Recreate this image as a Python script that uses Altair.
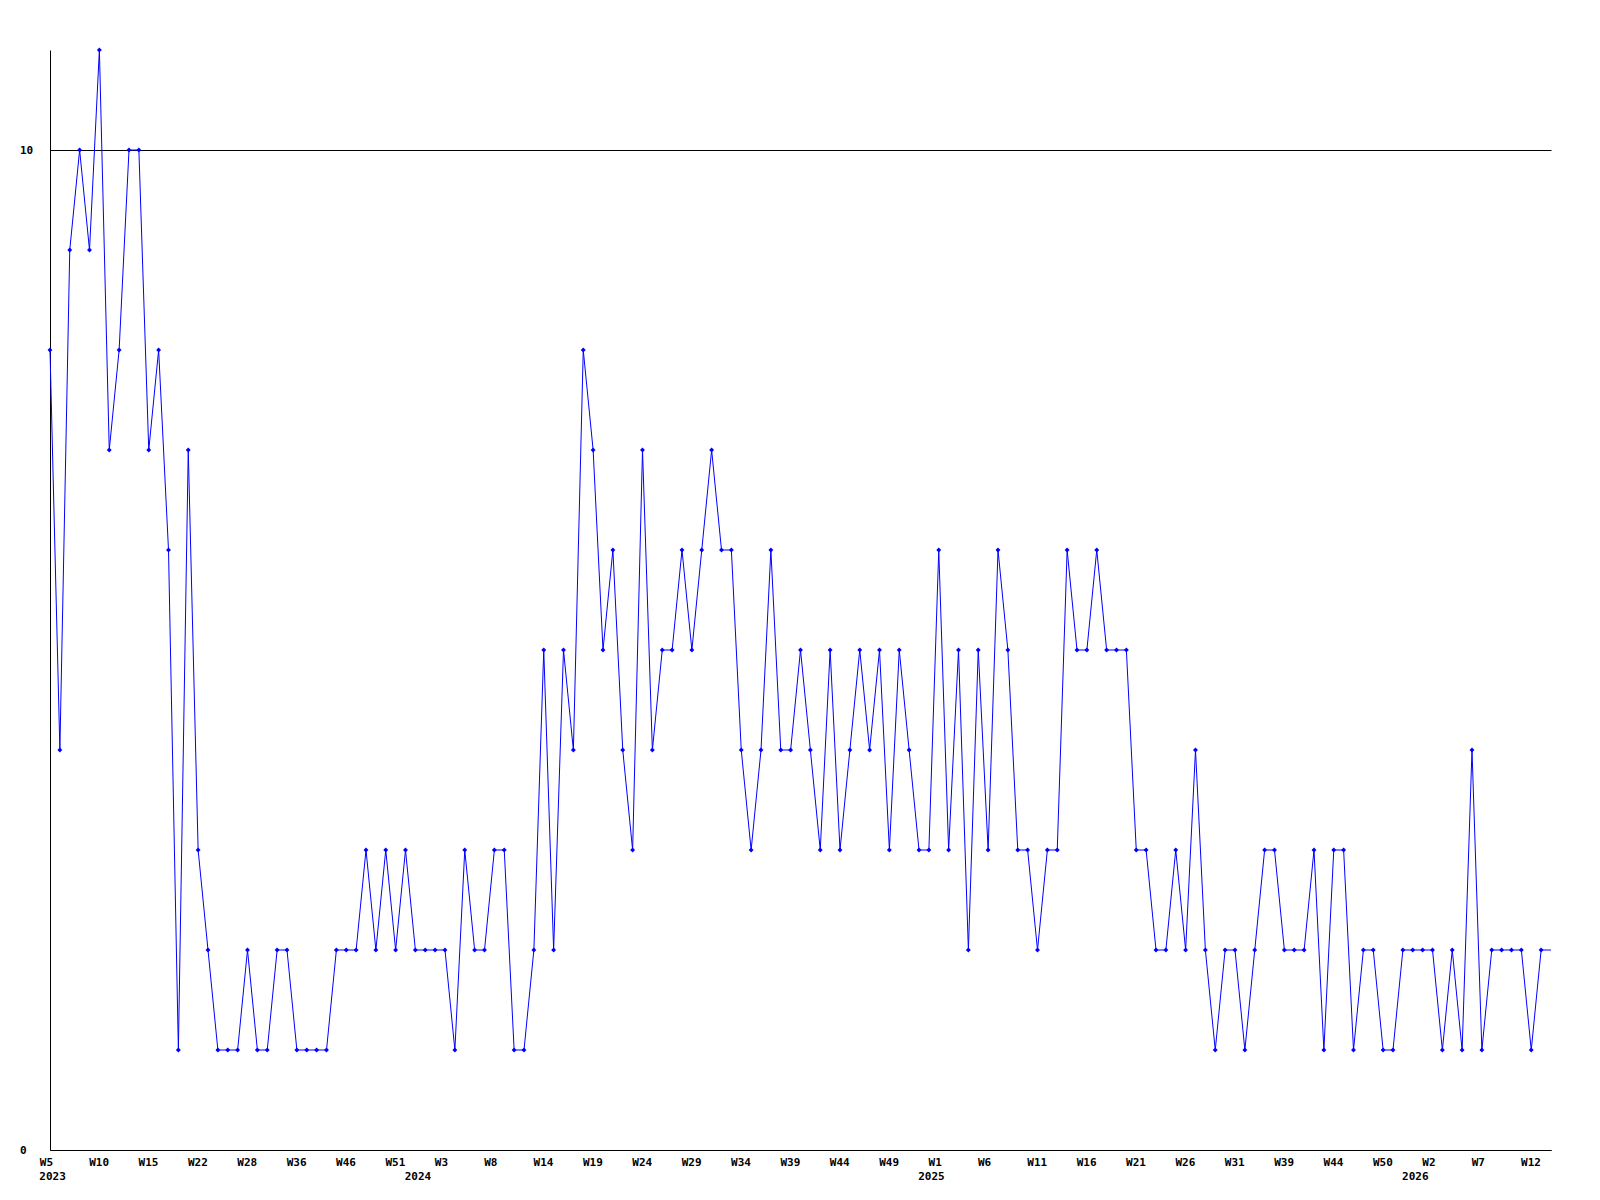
import altair as alt
import pandas as pd

# weekly values, one per point (the last one is the open week at the right edge, no marker)
values = [
    8, 4, 9, 10, 9, 11, 7, 8, 10, 10,
    7, 8, 6, 1, 7, 3, 2, 1, 1, 1,
    2, 1, 1, 2, 2, 1, 1, 1, 1, 2,
    2, 2, 3, 2, 3, 2, 3, 2, 2, 2,
    2, 1, 3, 2, 2, 3, 3, 1, 1, 2,
    5, 2, 5, 4, 8, 7, 5, 6, 4, 3,
    7, 4, 5, 5, 6, 5, 6, 7, 6, 6,
    4, 3, 4, 6, 4, 4, 5, 4, 3, 5,
    3, 4, 5, 4, 5, 3, 5, 4, 3, 3,
    6, 3, 5, 2, 5, 3, 6, 5, 3, 3,
    2, 3, 3, 6, 5, 5, 6, 5, 5, 5,
    3, 3, 2, 2, 3, 2, 4, 2, 1, 2,
    2, 1, 2, 3, 3, 2, 2, 2, 3, 1,
    3, 3, 1, 2, 2, 1, 1, 2, 2, 2,
    2, 1, 2, 1, 4, 1, 2, 2, 2, 2,
    1, 2, 2,
]

# tick labels, one every 5 points
week_labels = [
    "W5", "W10", "W15", "W22", "W28", "W36", "W46", "W51", "W3", "W8",
    "W14", "W19", "W24", "W29", "W34", "W39", "W44", "W49", "W1", "W6",
    "W11", "W16", "W21", "W26", "W31", "W39", "W44", "W50", "W2", "W7", "W12",
]
label_step = 5

# year labels and the point index they sit under
year_labels = ["2023", "2024", "2025", "2026"]
year_index = [0, 37, 89, 138]

y_ticks = [0, 10]

FONT = "DejaVu Sans Mono"
BLUE = "#0000ff"

n = len(values)
df = pd.DataFrame({"i": list(range(n)), "v": values})
df_pts = df.iloc[:-1]
df_years = pd.DataFrame({"i": year_index, "t": year_labels})

label_arr = "[" + ",".join("'" + w + "'" for w in week_labels) + "]"
label_expr = f"{label_arr}[round(datum.value/{label_step})]"

x_scale = alt.Scale(domain=[0, n - 1], nice=False, zero=False)
y_scale = alt.Scale(domain=[0, 11], nice=False)

x_axis = alt.Axis(
    values=[k * label_step for k in range(len(week_labels))],
    labelExpr=label_expr,
    title=None,
    grid=False,
    ticks=False,
    tickSize=0,
    domain=True,
    domainColor="black",
    domainWidth=1,
    labelAlign="left",
    labelBaseline="middle",
    labelOffset=-10.7,
    labelPadding=12.7,
    labelFont=FONT,
    labelFontWeight="bold",
    labelFontSize=11,
    labelColor="black",
    labelOverlap=False,
    labelFlush=False,
)

y_axis = alt.Axis(
    values=y_ticks,
    format="d",
    title=None,
    grid=True,
    gridColor="black",
    gridOpacity=1,
    gridWidth=1,
    ticks=False,
    tickSize=0,
    domain=True,
    domainColor="black",
    domainWidth=1,
    labelAlign="left",
    labelBaseline="middle",
    labelPadding=30.5,
    labelFont=FONT,
    labelFontWeight="bold",
    labelFontSize=11,
    labelColor="black",
)

line = alt.Chart(df).mark_line(color=BLUE, strokeWidth=1).encode(
    x=alt.X("i:Q", scale=x_scale, axis=x_axis),
    y=alt.Y("v:Q", scale=y_scale, axis=y_axis),
)

pts = alt.Chart(df_pts).mark_point(
    shape="diamond", filled=True, size=24, color=BLUE, opacity=1
).encode(
    x=alt.X("i:Q", scale=x_scale),
    y=alt.Y("v:Q", scale=y_scale),
)

years = alt.Chart(df_years).mark_text(
    align="left", baseline="middle", dx=-10.7, font=FONT, fontWeight="bold",
    fontSize=11, color="black"
).encode(
    x=alt.X("i:Q", scale=x_scale),
    y=alt.value(1126.5),
    text="t:N",
)

chart = alt.layer(line, pts, years).properties(
    width=1501,
    height=1100,
    autosize=alt.AutoSizeParams(type="none"),
    padding={"left": 42, "top": 42, "right": 20, "bottom": 40},
    background="white",
).configure_view(strokeWidth=0)

chart.save("out.html", embed_options={"renderer": "svg", "actions": False})
